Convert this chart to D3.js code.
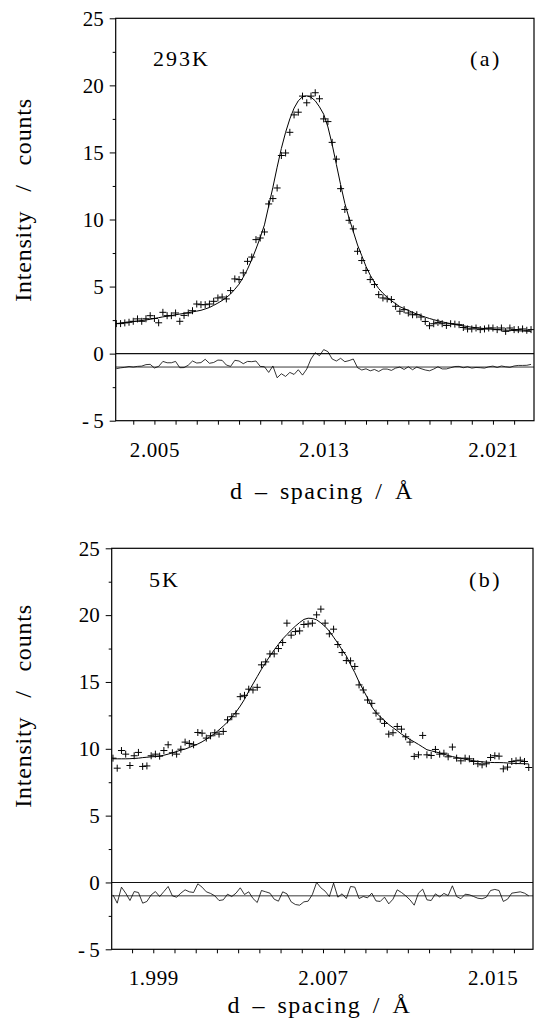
<!DOCTYPE html>
<html><head><meta charset="utf-8">
<script src="https://cdn.jsdelivr.net/npm/d3@7"></script>
<style>
body{margin:0;background:#fff}
svg{display:block}
</style>
</head><body>
<svg id="c" width="535" height="1023"></svg>
<script>
// ---------------- DATA ----------------
const yTickValues = [-5, 0, 5, 10, 15, 20, 25];
const xLabelsA = [2.005, 2.013, 2.021];
const xLabelsB = [1.999, 2.007, 2.015];
const xTitle = "d – spacing / Å";
const yTitle = "Intensity / counts";

// (a) 293K
const dA = [2.0032,2.0034,2.0036,2.0038,2.0040,2.0042,2.0044,2.0046,2.0048,2.0050,
2.0052,2.0054,2.0056,2.0058,2.0060,2.0062,2.0064,2.0066,2.0068,2.0070,
2.0072,2.0074,2.0076,2.0078,2.0080,2.0082,2.0084,2.0086,2.0088,2.0090,
2.0092,2.0094,2.0096,2.0098,2.0100,2.0102,2.0104,2.0106,2.0108,2.0110,
2.0112,2.0114,2.0116,2.0118,2.0120,2.0122,2.0124,2.0126,2.0128,2.0130,
2.0132,2.0134,2.0136,2.0138,2.0140,2.0142,2.0144,2.0146,2.0148,2.0150,
2.0152,2.0154,2.0156,2.0158,2.0160,2.0162,2.0164,2.0166,2.0168,2.0170,
2.0172,2.0174,2.0176,2.0178,2.0180,2.0182,2.0184,2.0186,2.0188,2.0190,
2.0192,2.0194,2.0196,2.0198,2.0200,2.0202,2.0204,2.0206,2.0208,2.0210,
2.0212,2.0214,2.0216,2.0218,2.0220,2.0222,2.0224,2.0226,2.0228];
const obsA = [2.24,2.24,2.29,2.34,2.41,2.59,2.41,2.60,2.83,2.62,
2.30,3.08,2.83,2.83,3.03,2.41,2.85,3.03,3.20,3.70,
3.65,3.65,3.70,3.90,4.15,4.22,4.08,4.70,5.57,5.52,
6.02,6.88,7.20,8.50,8.62,9.07,11.16,11.56,12.35,14.77,
14.96,16.50,17.80,18.00,19.20,18.70,19.20,19.45,19.00,17.50,
17.30,15.75,14.50,12.30,10.75,9.94,9.30,7.63,6.94,6.20,
5.52,5.15,4.40,4.15,4.08,4.03,3.53,3.16,3.28,3.03,
2.90,2.90,2.73,2.40,2.08,2.23,2.33,2.23,2.10,2.23,
2.20,2.16,1.95,1.84,1.84,1.91,1.79,1.84,1.91,1.91,
1.79,1.91,1.66,1.91,1.79,1.79,1.84,1.74,1.79];
const calcA = [2.24,2.28,2.32,2.35,2.39,2.43,2.47,2.51,2.56,2.62,
2.68,2.74,2.79,2.84,2.90,2.95,3.00,3.05,3.11,3.17,
3.23,3.33,3.44,3.60,3.77,3.96,4.18,4.45,4.80,5.18,
5.70,6.30,7.00,7.80,8.65,9.60,11.00,12.40,13.90,15.30,
16.50,17.50,18.30,18.85,19.15,19.22,19.12,18.85,18.40,17.85,
16.90,15.60,14.10,12.60,11.20,10.10,9.10,8.10,7.30,6.50,
5.85,5.30,4.85,4.50,4.20,3.95,3.72,3.50,3.36,3.22,
3.08,2.95,2.83,2.72,2.62,2.53,2.45,2.37,2.30,2.24,
2.18,2.12,2.07,2.02,1.97,1.93,1.90,1.87,1.84,1.81,
1.79,1.77,1.75,1.74,1.72,1.70,1.69,1.67,1.66];
const diffA = [-1.12,-1.06,-1.02,-0.96,-1.00,-0.95,-0.93,-0.82,-0.80,-1.07,
-0.95,-0.58,-0.68,-0.68,-0.58,-1.05,-1.04,-0.86,-0.55,-0.70,
-0.67,-0.42,-0.72,-0.66,-0.48,-0.50,-0.85,-0.95,-0.50,-0.55,
-0.75,-0.58,-0.60,-0.55,-0.95,-0.98,-1.40,-0.92,-1.80,-1.50,
-1.70,-1.40,-1.55,-1.20,-1.60,-1.15,-0.40,0.07,-0.15,0.30,
0.15,-0.40,-0.55,-0.35,-0.60,-0.52,-0.40,-1.05,-1.22,-1.13,
-1.28,-1.18,-1.33,-1.15,-1.15,-1.25,-1.08,-1.00,-1.18,-0.98,
-1.20,-1.00,-1.12,-1.22,-1.28,-1.15,-0.98,-1.14,-1.14,-1.05,
-0.96,-0.95,-1.05,-0.98,-1.08,-1.03,-1.05,-1.08,-0.98,-0.93,
-1.03,-0.92,-0.98,-1.02,-0.92,-0.88,-0.88,-0.87,-0.80];

// (b) 5K
const dB = [1.9971,1.9973,1.9975,1.9977,1.9979,1.9981,1.9983,1.9985,1.9987,1.9989,
1.9991,1.9993,1.9995,1.9997,1.9999,2.0001,2.0003,2.0005,2.0007,2.0009,
2.0011,2.0013,2.0015,2.0017,2.0019,2.0021,2.0023,2.0025,2.0027,2.0029,
2.0031,2.0033,2.0035,2.0037,2.0039,2.0041,2.0043,2.0045,2.0047,2.0049,
2.0051,2.0053,2.0055,2.0057,2.0059,2.0061,2.0063,2.0065,2.0067,2.0069,
2.0071,2.0073,2.0075,2.0077,2.0079,2.0081,2.0083,2.0085,2.0087,2.0089,
2.0091,2.0093,2.0095,2.0097,2.0099,2.0101,2.0103,2.0105,2.0107,2.0109,
2.0111,2.0113,2.0115,2.0117,2.0119,2.0121,2.0123,2.0125,2.0127,2.0129,
2.0131,2.0133,2.0135,2.0137,2.0139,2.0141,2.0143,2.0145,2.0147,2.0149,
2.0151,2.0153,2.0155,2.0157,2.0159,2.0161,2.0163,2.0165,2.0167];
const obsB = [9.30,8.55,9.87,9.60,8.75,9.48,9.73,8.68,8.72,9.48,
9.60,9.45,9.87,10.30,9.70,9.60,9.97,10.50,10.40,10.30,
11.22,11.17,10.80,10.97,11.20,11.10,11.30,12.17,12.40,12.62,
13.90,14.00,14.46,14.40,14.60,16.28,16.50,17.10,17.10,17.50,
17.95,19.40,18.50,18.77,18.82,19.30,19.34,19.40,20.02,20.45,
19.40,18.60,18.95,17.80,17.20,16.60,16.58,16.16,14.78,14.40,
13.65,13.40,12.67,12.22,11.90,11.10,11.20,11.67,11.47,10.90,
10.50,9.43,9.55,11.00,9.55,9.50,9.95,9.60,9.67,9.40,
10.13,9.30,9.10,9.30,9.25,9.05,8.88,8.80,8.88,9.35,
9.48,9.45,8.50,8.63,9.05,9.10,9.15,9.05,8.60];
const calcB = [9.25,9.25,9.25,9.25,9.26,9.28,9.30,9.34,9.37,9.40,
9.42,9.45,9.52,9.60,9.70,9.80,9.90,9.98,10.10,10.23,
10.36,10.52,10.72,10.93,11.15,11.42,11.70,12.00,12.38,12.75,
13.20,13.70,14.30,14.85,15.40,15.95,16.45,16.95,17.40,17.82,
18.22,18.55,18.88,19.18,19.45,19.68,19.77,19.75,19.65,19.42,
19.15,18.80,18.35,17.90,17.40,16.95,16.30,15.70,15.00,14.40,
13.80,13.15,12.70,12.40,12.10,11.82,11.58,11.35,11.10,10.90,
10.70,10.52,10.33,10.13,9.93,9.85,9.77,9.69,9.60,9.50,
9.42,9.35,9.29,9.22,9.16,9.10,9.06,9.03,9.00,8.98,
8.97,8.97,8.96,8.94,8.92,8.90,8.89,8.88,8.87];
const diffB = [-0.93,-1.55,-0.35,-0.80,-1.35,-0.68,-0.75,-1.55,-1.42,-0.93,
-0.68,-1.05,-0.68,-0.30,-1.00,-1.10,-0.80,-0.55,-0.70,-0.75,
-0.10,-0.35,-0.70,-0.82,-1.00,-1.35,-1.30,-0.88,-1.05,-0.80,
-0.40,-0.90,-0.70,-1.20,-1.50,-0.60,-0.70,-0.80,-1.25,-1.40,
-0.70,-0.85,-1.45,-1.65,-1.70,-1.45,-1.40,-0.90,0.00,-0.40,
-0.65,-1.05,-0.05,-1.10,-0.85,-1.20,-0.30,-0.35,-1.20,-1.05,
-1.15,-0.80,-1.38,-1.42,-1.10,-1.60,-1.25,-0.55,-0.75,-1.00,
-1.30,-1.70,-0.80,-0.50,-1.30,-1.35,-0.85,-1.08,-0.82,-0.98,
-0.25,-1.05,-1.22,-0.88,-0.92,-1.05,-1.18,-1.22,-1.10,-0.60,
-0.52,-0.60,-1.42,-1.25,-0.80,-0.75,-0.70,-0.80,-1.00];

const diffBaseline = -1;

// ---------------- LAYOUT ----------------
const panels = [
  {id:"a", d:dA, obs:obsA, calc:calcA, diff:diffA, labels:xLabelsA, temp:"293K", tag:"(a)",
   xDomain:[2.00317, 2.02294], xRange:[115.7, 534], yRange:[420.7, 18.3],
   tempXY:[153, 66], tagXY:[470, 66], xTitleY:499, yTitleCY:200},
  {id:"b", d:dB, obs:obsB, calc:calcB, diff:diffB, labels:xLabelsB, temp:"5K", tag:"(b)",
   xDomain:[1.99704, 2.01690], xRange:[111.7, 533], yRange:[949.3, 548.3],
   tempXY:[149, 587], tagXY:[469, 587], xTitleY:1013, yTitleCY:706}
];

const FONT = "Liberation Serif";
const svg = d3.select("#c");
const defs = svg.append("defs");
const plusPath = "M-3.5,0H3.5M0,-3.5V3.5";

panels.forEach(p => {
  const x = d3.scaleLinear().domain(p.xDomain).range(p.xRange);
  const y = d3.scaleLinear().domain([-5, 25]).range(p.yRange);
  const [x0, x1] = p.xRange;
  const [yb, yt] = p.yRange;
  const g = svg.append("g");

  defs.append("clipPath").attr("id", "clip" + p.id)
    .append("rect").attr("x", x0).attr("y", yt).attr("width", x1 - x0).attr("height", yb - yt);
  const plot = g.append("g").attr("clip-path", `url(#clip${p.id})`);

  plot.append("line").attr("x1", x0).attr("x2", x1).attr("y1", y(0)).attr("y2", y(0))
    .attr("stroke", "#111").attr("stroke-width", 1.1);
  plot.append("line").attr("x1", x0).attr("x2", x1).attr("y1", y(diffBaseline)).attr("y2", y(diffBaseline))
    .attr("stroke", "#222").attr("stroke-width", 0.9);

  const line = d3.line().x(v => x(v[0])).y(v => y(v[1]));
  plot.append("path").datum(p.d.map((d, i) => [d, p.calc[i]]))
    .attr("d", line).attr("fill", "none").attr("stroke", "#000").attr("stroke-width", 1);
  plot.append("path").datum(p.d.map((d, i) => [d, p.diff[i]]))
    .attr("d", line).attr("fill", "none").attr("stroke", "#000").attr("stroke-width", 0.8);
  plot.selectAll("path.obs").data(p.d.map((d, i) => [d, p.obs[i]])).enter()
    .append("path").attr("class", "obs")
    .attr("transform", v => `translate(${x(v[0])},${y(v[1])})`)
    .attr("d", plusPath).attr("stroke", "#000").attr("stroke-width", 1).attr("fill", "none");

  g.append("rect").attr("x", x0).attr("y", yt).attr("width", x1 - x0).attr("height", yb - yt)
    .attr("fill", "none").attr("stroke", "#000").attr("stroke-width", 1.2);

  const kMin = Math.ceil(p.xDomain[0] * 1000), kMax = Math.floor(p.xDomain[1] * 1000);
  const xt = d3.range(kMin, kMax + 1).map(k => k / 1000);
  const isLab = v => p.labels.some(l => Math.abs(l - v) < 1e-7);
  const xa = g.append("g").attr("transform", `translate(0,${yb})`)
    .call(d3.axisBottom(x).tickValues(xt).tickSize(4).tickPadding(17)
      .tickFormat(v => isLab(v) ? d3.format(".3f")(v) : ""));
  xa.select(".domain").remove();
  xa.attr("font-family", FONT).attr("font-size", 21);
  xa.selectAll("text").attr("font-family", FONT).attr("font-size", 21).attr("letter-spacing", 0.6).attr("fill", "#000");

  const ya = g.append("g").attr("transform", `translate(${x0},0)`)
    .call(d3.axisLeft(y).tickValues(yTickValues).tickSize(6).tickPadding(6)
      .tickFormat(v => v < 0 ? "-\u2009" + (-v) : String(v)));
  ya.select(".domain").remove();
  ya.attr("font-family", FONT).attr("font-size", 21);
  ya.selectAll("text").attr("font-family", FONT).attr("font-size", 21).attr("fill", "#000");
  const ym = g.append("g").attr("transform", `translate(${x0},0)`)
    .call(d3.axisLeft(y).tickValues(yTickValues.slice(0, -1).map(v => v + 2.5)).tickSize(3).tickFormat(""));
  ym.select(".domain").remove();

  g.append("text").attr("x", p.tempXY[0]).attr("y", p.tempXY[1])
    .attr("font-family", FONT).attr("font-size", 22).attr("letter-spacing", 2).text(p.temp);
  g.append("text").attr("x", p.tagXY[0]).attr("y", p.tagXY[1])
    .attr("font-family", FONT).attr("font-size", 22).attr("letter-spacing", 2.5).text(p.tag);

  g.append("text").attr("x", (x0 + x1) / 2 - 3).attr("y", p.xTitleY).attr("text-anchor", "middle")
    .attr("font-family", FONT).attr("font-size", 24).attr("letter-spacing", 1.5).attr("word-spacing", 4).text(xTitle);
  g.append("text").attr("transform", `translate(31,${p.yTitleCY}) rotate(-90)`)
    .attr("text-anchor", "middle").attr("font-family", FONT).attr("font-size", 24).attr("letter-spacing", 0.8)
    .attr("word-spacing", 12).text(yTitle);
});
</script>
</body></html>
